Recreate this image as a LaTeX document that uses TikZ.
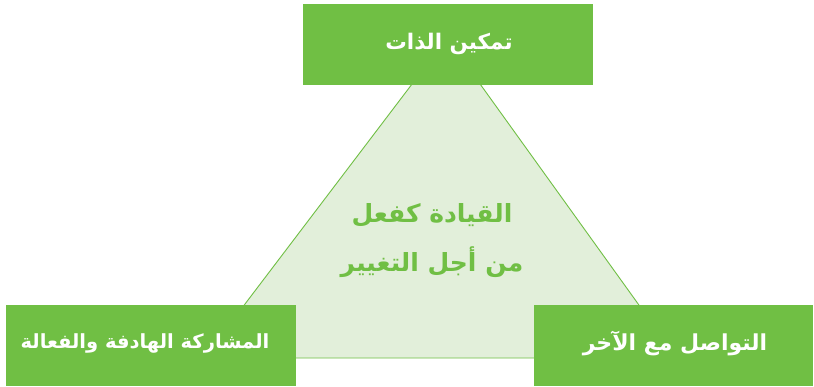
\documentclass[tikz,border=0pt]{standalone}
\usepackage{fontspec}
\newfontfamily\arabicfont[Script=Arabic]{DejaVu Sans}
\TeXXeTstate=1
\definecolor{boxgreen}{HTML}{70BF44}
\definecolor{trifill}{HTML}{E2EFDA}
\tikzset{
  greenbox/.style={fill=boxgreen, draw=none, minimum width=#1, minimum height=81pt, inner sep=0pt},
  boxlabel/.style={text=white, inner sep=0pt, font=\arabicfont\bfseries\fontsize{#1}{24}\selectfont},
  tri/.style={fill=trifill, draw=boxgreen, line width=0.9pt, line join=miter},
  centertext/.style={text=boxgreen, align=center, font=\arabicfont\bfseries\fontsize{25}{49}\selectfont}
}
\begin{document}
\begin{tikzpicture}[x=1pt,y=-1pt]
\useasboundingbox (0,0) rectangle (814,387);
\fill[white] (0,0) rectangle (814,387);
\coordinate (apex) at (447,38);
\coordinate (bl) at (204,358);
\coordinate (br) at (677,358);
\draw[tri] (apex) -- (bl) -- (br) -- cycle;
\node[centertext] (center) at (432,241) {\beginR القيادة كفعل\endR\\ \beginR من أجل التغيير\endR};
\node[greenbox=290pt] (top) at (448,45) {};
\node[boxlabel=21.5] (toplabel) at (449,44) {\beginR تمكين الذات\endR};
\node[greenbox=290pt] (left) at (151,345.5) {};
\node[boxlabel=19.5] (leftlabel) at (145,343) {\beginR المشاركة الهادفة والفعالة\endR};
\node[greenbox=279pt] (right) at (673.5,345.5) {};
\node[boxlabel=22] (rightlabel) at (675,343) {\beginR التواصل مع الآخر\endR};
\end{tikzpicture}
\end{document}
